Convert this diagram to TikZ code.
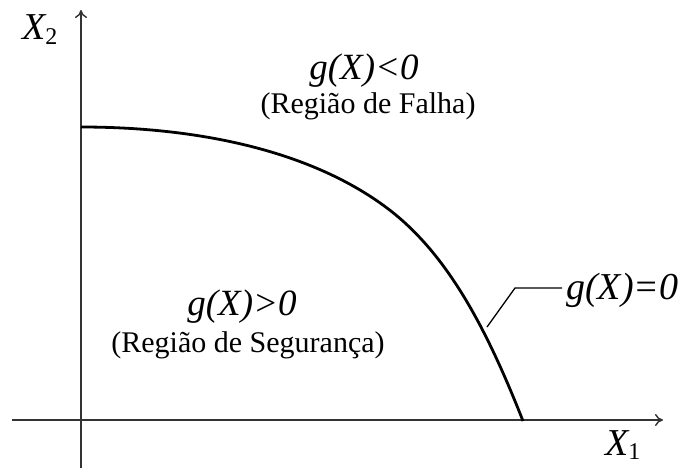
\documentclass[tikz,border=0pt]{standalone}
\usepackage{fontspec}
\setmainfont{Liberation Serif}
\usetikzlibrary{arrows.meta}
\begin{document}
\begin{tikzpicture}[x=1pt,y=-1pt,
  axis/.style={line width=1.4pt,draw=black!80,-{To[length=8pt,width=12pt]}},
  curve/.style={line width=2.8pt,black},
  leader/.style={line width=1.3pt,black},
  mathlbl/.style={inner sep=0pt,font=\fontsize{37}{40}\selectfont\itshape},
  txtlbl/.style={inner sep=0pt,font=\fontsize{30}{32}\selectfont}]
\useasboundingbox (0,0) rectangle (682,468);
\coordinate (ybot) at (81,468);
\coordinate (ytop) at (81,10);
\coordinate (xl) at (12,420);
\coordinate (xr) at (663,420);
\draw[axis] (ybot) -- (ytop);
\draw[axis] (xl) -- (xr);
\coordinate (c0) at (81,127);
\coordinate (c1) at (387,208);
\coordinate (c2) at (523,421);
\draw[curve] (c0) .. controls (191,127) and (307,148) .. (c1)
  .. controls (447,253) and (486.4,328) .. (c2);
\coordinate (lc) at (487,327);
\coordinate (lk) at (515,288);
\coordinate (le) at (562,288);
\draw[leader] (lc) -- (lk) -- (le);
\node[mathlbl,anchor=west,font=\fontsize{38}{40}\selectfont\itshape] (g0) at (566,290) {g(X)=0};
\node[mathlbl] (gneg) at (364,71) {g(X)<0};
\node[txtlbl] (falha) at (368,106) {(Região de Falha)};
\node[mathlbl] (gpos) at (242,307) {g(X)>0};
\node[txtlbl] (seg) at (248,345) {(Região de Segurança)};
\node[inner sep=0pt,anchor=base west] (x2) at (22,40) {\fontsize{38}{40}\selectfont\itshape X\upshape\raisebox{-0.25ex}{\fontsize{24}{26}\selectfont 2}};
\node[inner sep=0pt,anchor=base west] (x1) at (605,455) {\fontsize{38}{40}\selectfont\itshape X\upshape\raisebox{-0.25ex}{\fontsize{24}{26}\selectfont 1}};
\end{tikzpicture}
\end{document}
